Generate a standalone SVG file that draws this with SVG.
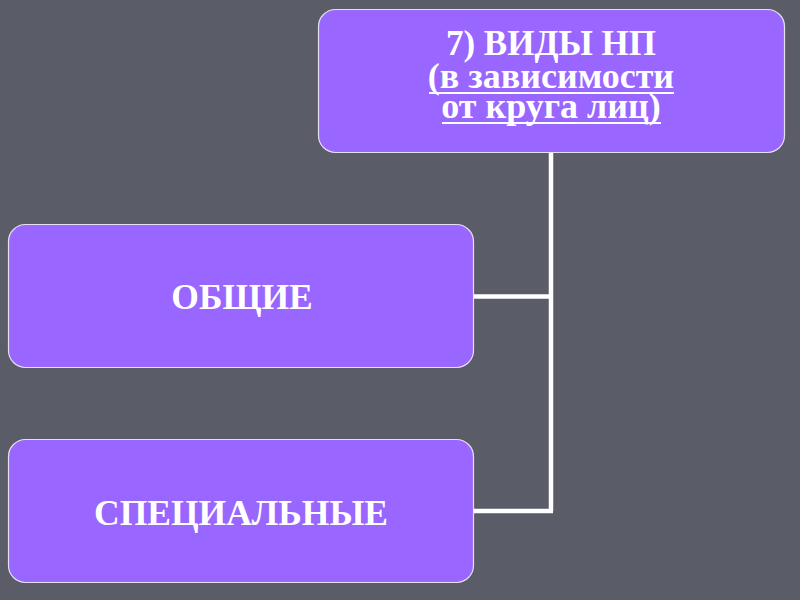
<svg xmlns="http://www.w3.org/2000/svg" width="800" height="600" viewBox="0 0 800 600">
<style>
.box{fill:#9966ff;stroke:#e6e0f0;stroke-width:1.2}
.t{font-family:"Liberation Serif","Times New Roman",serif;font-weight:bold;fill:#ffffff;text-anchor:middle}
.c{fill:none;stroke:#ffffff;stroke-width:4.5}
.u{stroke:#ffffff;stroke-width:2.2}
</style>
<rect width="800" height="600" fill="#5a5c68"/>
<g id="connectors">
<path class="c" d="M551,153 V511 M474,296.5 H553 M474,511 H553"/>
</g>
<g id="n-top">
<rect class="box" x="318.5" y="9.5" width="466" height="143" rx="17"/>
<text class="t" font-size="35"><tspan x="551" y="55">7) ВИДЫ НП</tspan><tspan x="551" y="88" font-size="36">(в зависимости</tspan><tspan x="551" y="118" font-size="36">от круга лиц)</tspan></text>
<line class="u" x1="429" y1="93" x2="674" y2="93"/>
<line class="u" x1="442" y1="123" x2="661" y2="123"/>
</g>
<g id="n-general">
<rect class="box" x="8.5" y="224.5" width="465" height="143" rx="17"/>
<text class="t" x="242" y="309" font-size="35.5">ОБЩИЕ</text>
</g>
<g id="n-special">
<rect class="box" x="8.5" y="439.5" width="465" height="143" rx="17"/>
<text class="t" x="241" y="525" font-size="35.5">СПЕЦИАЛЬНЫЕ</text>
</g>
</svg>
